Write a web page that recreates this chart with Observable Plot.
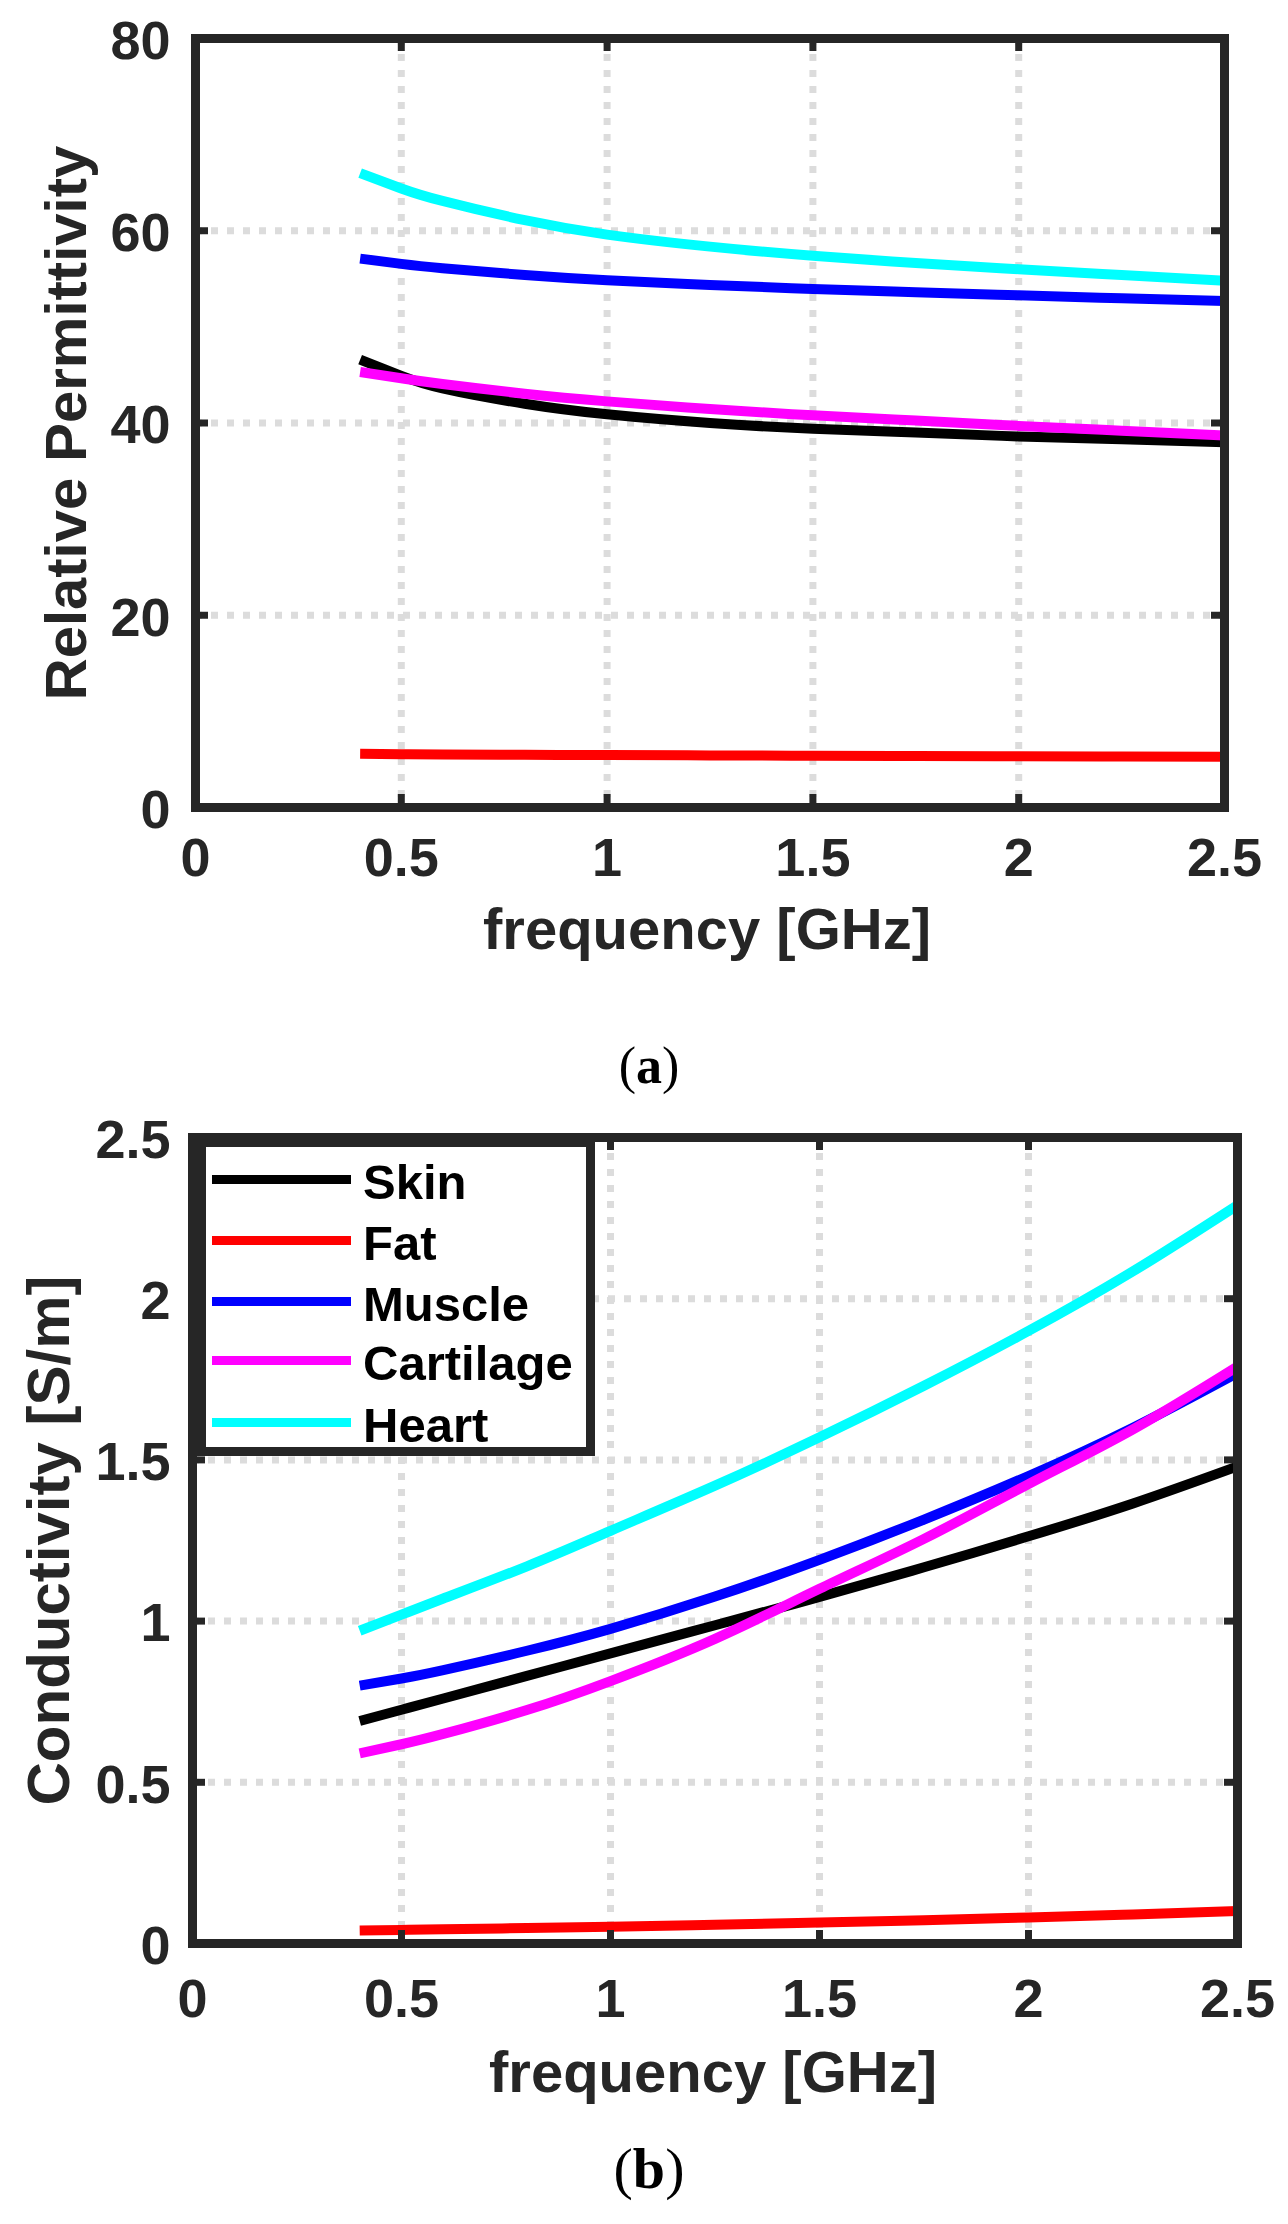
<!DOCTYPE html>
<html>
<head>
<meta charset="utf-8">
<script src="https://cdn.jsdelivr.net/npm/d3@7"></script>
<script src="https://cdn.jsdelivr.net/npm/@observablehq/plot@0.6"></script>
<style>
  html, body { margin: 0; padding: 0; background: #fff; }
  body { width: 1288px; height: 2224px; position: relative; overflow: hidden; }
  .panel { position: absolute; left: 0; }
  .cap { position: absolute; font-family: "Liberation Serif", "Times New Roman", serif; color: #000; white-space: nowrap; transform: translateX(-50%); }
  .cap b { font-weight: bold; }
  #legend { position: absolute; box-sizing: border-box; background: #fff; border: 9px solid #262626; }
  .lg-line { position: absolute; height: 9px; }
  .lg-text { position: absolute; font-family: "Liberation Sans", Arial, sans-serif; font-weight: bold; font-size: 49px; color: #000; white-space: nowrap; line-height: 49px; }
</style>
</head>
<body>
<div id="pa" class="panel" style="top:0px"></div>
<div id="capa" class="cap" style="left:649px; top:1040px; font-size:52px; line-height:52px">(<b>a</b>)</div>
<div id="pb" class="panel" style="top:1100px"></div>
<div id="legend"></div>
<div id="capb" class="cap" style="left:649px; top:2140px; font-size:58px; line-height:58px">(<b>b</b>)</div>
<script>
// ---------- data ----------
const freqs = [0.4, 0.5, 0.6, 0.8, 1.0, 1.25, 1.5, 1.75, 2.0, 2.25, 2.5];
const tissues = ["Skin", "Fat", "Muscle", "Cartilage", "Heart"];
const colors = ["#000000", "#ff0000", "#0000ff", "#ff00ff", "#00ffff"];

// Relative permittivity
const permSkin      = [46.6, 44.9, 43.6, 42.0, 40.9, 40.0, 39.4, 39.0, 38.6, 38.3, 38.0];
const permFat       = [5.58, 5.54, 5.52, 5.48, 5.45, 5.42, 5.39, 5.36, 5.33, 5.30, 5.28];
const permMuscle    = [57.1, 56.55, 56.1, 55.4, 54.85, 54.35, 53.95, 53.6, 53.28, 52.98, 52.7];
const permCartilage = [45.3, 44.65, 44.05, 43.05, 42.25, 41.45, 40.8, 40.25, 39.7, 39.2, 38.7];
const permHeart     = [66.0, 64.4, 63.1, 61.1, 59.6, 58.35, 57.4, 56.65, 56.0, 55.4, 54.8];

// Conductivity [S/m]
const condSkin      = [0.69, 0.725, 0.76, 0.83, 0.90, 0.987, 1.075, 1.167, 1.263, 1.365, 1.48];
const condFat       = [0.040, 0.042, 0.044, 0.048, 0.052, 0.058, 0.065, 0.072, 0.081, 0.090, 0.101];
const condMuscle    = [0.80, 0.822, 0.848, 0.908, 0.976, 1.076, 1.19, 1.315, 1.45, 1.60, 1.77];
const condCartilage = [0.59, 0.618, 0.650, 0.724, 0.814, 0.945, 1.10, 1.255, 1.425, 1.595, 1.79];
const condHeart     = [0.97, 1.02, 1.07, 1.17, 1.28, 1.42, 1.57, 1.73, 1.90, 2.085, 2.29];

const xTicks = [0, 0.5, 1, 1.5, 2, 2.5];
const yTicksA = [0, 20, 40, 60, 80];
const yTicksB = [0, 0.5, 1, 1.5, 2, 2.5];

const permSeries = [permSkin, permFat, permMuscle, permCartilage, permHeart];
const condSeries = [condSkin, condFat, condMuscle, condCartilage, condHeart];

function toLong(series) {
  const out = [];
  series.forEach((vals, i) => vals.forEach((v, j) => out.push({tissue: tissues[i], f: freqs[j], v})));
  return out;
}

const INK = "#262626";
const FONT = "Liberation Sans, Arial, sans-serif";

function panel(o) {
  const innerH = o.height - o.mt - o.mb;
  const innerW = 1288 - o.ml - o.mr;
  const tl = 13;
  const txt = {fill: INK, fontWeight: "bold", fontFamily: FONT};
  const grid = {stroke: "#dcdcdc", strokeOpacity: 1, strokeWidth: 7, strokeDasharray: "7,9"};
  return Plot.plot({
    width: 1288, height: o.height,
    marginTop: o.mt, marginBottom: o.mb, marginLeft: o.ml, marginRight: o.mr,
    style: {fontFamily: FONT, fontSize: "54px", fontWeight: "bold", color: INK, background: "transparent", overflow: "visible"},
    x: {domain: [0, 2.5], axis: null},
    y: {domain: o.yDomain, axis: null},
    color: {domain: tissues, range: colors},
    marks: [
      Plot.gridX(xTicks, grid),
      Plot.gridY(o.yTicks, grid),
      Plot.line(o.data, {x: "f", y: "v", z: "tissue", stroke: "tissue", strokeWidth: 10, curve: "natural", strokeLinecap: "butt"}),
      Plot.tickX(xTicks, {x: d => d, stroke: INK, strokeWidth: 7, insetTop: innerH - tl}),
      Plot.tickX(xTicks, {x: d => d, stroke: INK, strokeWidth: 7, insetBottom: innerH - tl}),
      Plot.tickY(o.yTicks, {y: d => d, stroke: INK, strokeWidth: 7, insetRight: innerW - tl}),
      Plot.tickY(o.yTicks, {y: d => d, stroke: INK, strokeWidth: 7, insetLeft: innerW - tl}),
      Plot.frame({stroke: INK, strokeWidth: 9}),
      Plot.text(xTicks, {x: d => d, text: d => String(d), frameAnchor: "bottom", dy: o.xTickDy, lineAnchor: "middle", textAnchor: "middle", fontSize: 54, ...txt}),
      Plot.text(o.yTicks, {y: d => d, text: d => String(d), frameAnchor: "left", dx: o.yTickDx, dy: 3, lineAnchor: "middle", textAnchor: "end", fontSize: 54, ...txt}),
      Plot.text([o.xLabel], {text: d => d, frameAnchor: "bottom", dy: o.xLabelDy, dx: o.xLabelDx, lineAnchor: "middle", textAnchor: "middle", fontSize: 58, ...txt}),
      Plot.text([o.yLabel], {text: d => d, frameAnchor: "left", dx: o.yLabelDx, rotate: -90, lineAnchor: "middle", textAnchor: "middle", fontSize: o.yLabelSize, ...txt})
    ]
  });
}

document.getElementById("pa").append(panel({
  data: toLong(permSeries), yDomain: [0, 80], yTicks: yTicksA,
  height: 1000, mt: 38, mb: 193, ml: 195, mr: 64,
  xTickDy: 51, yTickDx: -25, xLabelDy: 123, xLabelDx: -3,
  xLabel: "frequency [GHz]", yLabel: "Relative Permittivity", yLabelDx: -128, yLabelSize: 58
}));

document.getElementById("pb").append(panel({
  data: toLong(condSeries), yDomain: [0, 2.5], yTicks: yTicksB,
  height: 1000, mt: 37, mb: 157, ml: 192, mr: 51,
  xTickDy: 56, yTickDx: -22, xLabelDy: 130, xLabelDx: -2,
  xLabel: "frequency [GHz]", yLabel: "Conductivity [S/m]", yLabelDx: -143, yLabelSize: 60
}));

// ---------- legend (panel b) ----------
const lg = document.getElementById("legend");
const lgLeft = 197, lgTop = 1138;
lg.style.left = lgLeft + "px";
lg.style.top = lgTop + "px";
lg.style.width = "398px";
lg.style.height = "318px";
const lgRowY = [1179, 1240, 1301, 1360, 1422];
tissues.forEach((t, i) => {
  const yLocal = lgRowY[i] - lgTop - 9;
  const line = document.createElement("div");
  line.className = "lg-line";
  line.style.left = (212 - lgLeft - 9) + "px";
  line.style.width = "139px";
  line.style.top = (yLocal - 4.5) + "px";
  line.style.background = colors[i];
  lg.append(line);
  const tx = document.createElement("div");
  tx.className = "lg-text";
  tx.textContent = t;
  tx.style.left = (363 - lgLeft - 9) + "px";
  tx.style.top = (yLocal - 24.5 + 3) + "px";
  lg.append(tx);
});
</script>
</body>
</html>
